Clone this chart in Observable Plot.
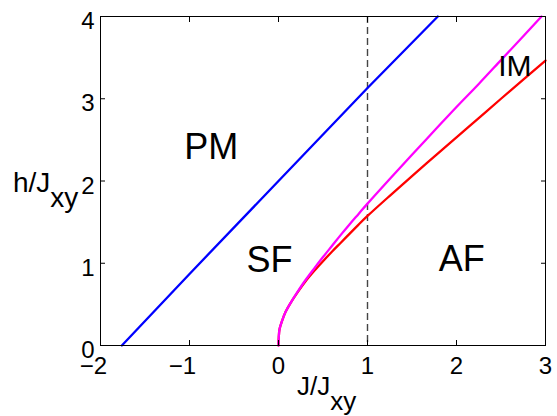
<!DOCTYPE html>
<html>
<head>
<meta charset="utf-8">
<script src="https://cdn.jsdelivr.net/npm/d3@7"></script>
<script src="https://cdn.jsdelivr.net/npm/@observablehq/plot@0.6"></script>
<style>
  html, body { margin: 0; padding: 0; background: #fff; }
</style>
</head>
<body>
<div id="chart"></div>
<script>
// Tick values
const xTicks = [-2, -1, 0, 1, 2, 3];
const yTicks = [0, 1, 2, 3, 4];

// PM / SF boundary (blue)
const blueJ = [-1.76, -1, 0, 1, 1.79];
const blueH = [0, 0.87, 2.0, 3.13, 4.0];

// SF / IM boundary (magenta)
const magJ = [0, 0.003, 0.012, 0.04, 0.08, 0.14, 0.21, 0.30, 0.40, 0.50, 0.60, 0.70, 0.80, 0.90, 1.00, 1.25, 1.50, 1.75, 2.00, 2.25, 2.50, 2.75, 2.955];
const magH = [0, 0.10, 0.20, 0.30, 0.41, 0.525, 0.645, 0.79, 0.935, 1.075, 1.21, 1.345, 1.475, 1.60, 1.725, 2.025, 2.32, 2.61, 2.90, 3.18, 3.47, 3.76, 4.00];

// IM / AF boundary (red)
const redJ = [0, 0.003, 0.012, 0.04, 0.08, 0.14, 0.21, 0.30, 0.40, 0.50, 0.60, 0.70, 0.80, 0.90, 1.00, 1.25, 1.50, 1.75, 2.00, 2.25, 2.50, 2.75, 3.00];
const redH = [0, 0.10, 0.20, 0.30, 0.41, 0.525, 0.64, 0.775, 0.905, 1.025, 1.14, 1.25, 1.36, 1.47, 1.575, 1.82, 2.06, 2.295, 2.53, 2.765, 3.00, 3.233, 3.465];

// Dashed reference line
const dashJ = [1];

// Region labels
const regionNames = ["PM", "SF", "AF"];
const regionJ = [-0.755, -0.10, 2.06];
const regionH = [2.27, 0.89, 0.91];
const imName = ["IM"];
const imJ = [2.656];
const imH = [3.28];

const toPts = (xs, ys) => xs.map((x, i) => ({x, y: ys[i]}));
const fmt = d => d < 0 ? "\u2212" + Math.abs(d) : String(d);
const FONT = "'Liberation Sans', Arial, Helvetica, sans-serif";
const TICKFONT = 24;

const plot = Plot.plot({
  width: 557,
  height: 416,
  marginLeft: 100,
  marginRight: 12,
  marginTop: 16,
  marginBottom: 71,
  x: {domain: [-2, 3]},
  y: {domain: [0, 4]},
  style: {fontFamily: FONT, fontSize: "22px", color: "#000", background: "#fff", overflow: "visible"},
  marks: [
    Plot.ruleX(dashJ, {x: d => d, stroke: "#444", strokeWidth: 1.4, strokeDasharray: "7,4"}),
    Plot.line(toPts(blueJ, blueH), {x: "x", y: "y", stroke: "#0000ff", strokeWidth: 2.3}),
    Plot.line(toPts(redJ, redH), {x: "x", y: "y", stroke: "#ff0000", strokeWidth: 2.3, curve: "catmull-rom"}),
    Plot.line(toPts(magJ, magH), {x: "x", y: "y", stroke: "#ff00ff", strokeWidth: 2.3, curve: "catmull-rom"}),
    Plot.text(regionNames, {x: (d, i) => regionJ[i], y: (d, i) => regionH[i], text: d => d, fontSize: 36, textAnchor: "middle", lineAnchor: "bottom", fill: "#000"}),
    Plot.text(imName, {x: (d, i) => imJ[i], y: (d, i) => imH[i], text: d => d, fontSize: 30, textAnchor: "middle", lineAnchor: "bottom", fill: "#000"}),
    Plot.frame({stroke: "#000", strokeWidth: 1}),
    Plot.axisX(xTicks, {anchor: "bottom", tickSize: -5, tickFormat: () => "", label: null}),
    Plot.axisX(xTicks, {anchor: "top", tickSize: -5, tickFormat: () => "", label: null}),
    Plot.axisY(yTicks, {anchor: "left", tickSize: -5, tickFormat: () => "", label: null}),
    Plot.axisY(yTicks, {anchor: "right", tickSize: -5, tickFormat: () => "", label: null}),
    // tick labels (digit centred on the tick, minus sign hanging to the left)
    Plot.text(xTicks.filter(d => d >= 0), {x: d => d, frameAnchor: "bottom", dy: 11, lineAnchor: "top", textAnchor: "middle", text: fmt, fontSize: TICKFONT, fill: "#000"}),
    Plot.text(xTicks.filter(d => d < 0), {x: d => d, frameAnchor: "bottom", dx: -7, dy: 11, lineAnchor: "top", textAnchor: "middle", text: fmt, fontSize: TICKFONT, fill: "#000"}),
    Plot.text(yTicks, {y: d => d, frameAnchor: "left", dx: -6, dy: 5, lineAnchor: "middle", textAnchor: "end", text: fmt, fontSize: TICKFONT, fill: "#000"})
  ]
});

const svg = d3.select(plot);

// x-axis label J/J_xy
const xl = svg.append("text")
  .attr("x", 297).attr("y", 395)
  .attr("font-size", 26).attr("fill", "#000")
  .attr("text-anchor", "start")
  .attr("font-family", FONT);
xl.append("tspan").text("J/J");
xl.append("tspan").attr("dy", 15).text("xy");

// y-axis label h/J_xy
const yl = svg.append("text")
  .attr("x", 13).attr("y", 192)
  .attr("font-size", 28).attr("fill", "#000")
  .attr("text-anchor", "start")
  .attr("font-family", FONT);
yl.append("tspan").text("h/J");
yl.append("tspan").attr("dy", 15).text("xy");

document.getElementById("chart").appendChild(plot);
</script>
</body>
</html>
